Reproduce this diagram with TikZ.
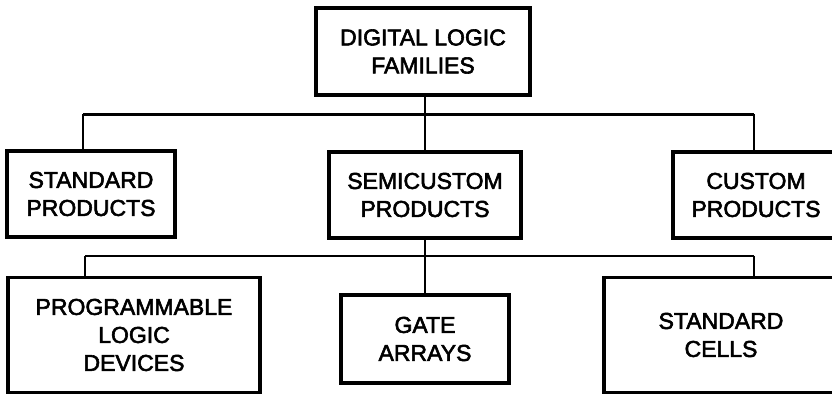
\documentclass[tikz,border=0pt]{standalone}
\usepackage{fontspec}
\setmainfont{Liberation Sans}
\newfontfamily\diagfont{Liberation Sans}[FakeBold=2.5]
\begin{document}
\begin{tikzpicture}[x=1pt,y=-1pt,
  box/.style={draw, line width=3.2pt, align=center, inner sep=0pt,
    font=\diagfont\fontsize{23}{28}\selectfont},
  conn/.style={line width=2.4pt}]
\useasboundingbox[fill=white] (0,0) rectangle (832,395);
\clip (0,0) rectangle (832,395);
% first level
\node[box, minimum width=214pt, minimum height=87pt] (top) at (423,51.5) {DIGITAL LOGIC\\FAMILIES};
% second level
\node[box, minimum width=168pt, minimum height=86pt] (std) at (91,194) {STANDARD\\PRODUCTS};
\node[box, minimum width=192pt, minimum height=86pt] (semi) at (425,195) {SEMICUSTOM\\PRODUCTS};
\node[box, minimum width=166pt, minimum height=86pt] (cust) at (756,195) {CUSTOM\\PRODUCTS};
% third level
\node[box, minimum width=252pt, minimum height=115pt] (pld) at (134,335) {PROGRAMMABLE\\LOGIC\\DEVICES};
\node[box, minimum width=168pt, minimum height=88pt] (gate) at (425,339) {GATE\\ARRAYS};
\node[box, minimum width=234pt, minimum height=115pt] (cells) at (721,335) {STANDARD\\CELLS};
% connector junctions
\coordinate (a1) at (83,114.5);
\coordinate (a2) at (425,114.5);
\coordinate (a3) at (754,114.5);
\coordinate (b1) at (85,256);
\coordinate (b2) at (425,256);
\coordinate (b3) at (754,256);
% upper tree
\draw[conn] (a1) -- (a3);
\draw[conn] (a2 |- top.south) -- (a2) -- (a2 |- semi.north);
\draw[conn] (a1) -- (a1 |- std.north);
\draw[conn] (a3) -- (a3 |- cust.north);
% lower tree
\draw[conn] (b1) -- (b3);
\draw[conn] (b2 |- semi.south) -- (b2) -- (b2 |- gate.north);
\draw[conn] (b1) -- (b1 |- pld.north);
\draw[conn] (b3) -- (b3 |- cells.north);
\end{tikzpicture}
\end{document}
